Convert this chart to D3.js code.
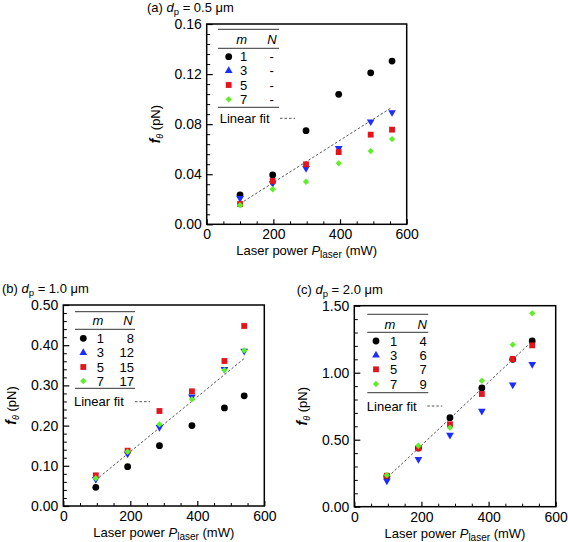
<!DOCTYPE html>
<html><head><meta charset="utf-8">
<script src="https://cdn.jsdelivr.net/npm/d3@7"></script>
<style>
body{margin:0;background:#fff;}
text{font-family:"Liberation Sans",Arial,sans-serif;}
</style></head>
<body><svg id="chart" width="568" height="542"></svg>
<script>
// ---------- data ----------
const panelLabels = ["(a)", "(b)", "(c)"];
const particleDiameters = ["0.5", "1.0", "2.0"];
const mValues = ["1", "3", "5", "7"];
const nValuesA = ["-", "-", "-", "-"];
const nValuesB = ["8", "12", "15", "17"];
const nValuesC = ["4", "6", "7", "9"];

const powerA = [100, 198, 298, 396, 492, 556];
const fA_m1 = [0.0234, 0.0394, 0.0748, 0.1038, 0.1210, 0.1304];
const fA_m3 = [0.0208, 0.0327, 0.0447, 0.0607, 0.0820, 0.0894];
const fA_m5 = [0.0162, 0.0346, 0.0479, 0.0577, 0.0716, 0.0756];
const fA_m7 = [0.0152, 0.0280, 0.0340, 0.0487, 0.0585, 0.0681];
const fitA_x = [100, 552];
const fitA_y = [0.0165, 0.0928];

const powerB = [97, 192, 287, 384, 481, 540];
const fB_m1 = [0.0465, 0.0978, 0.150, 0.200, 0.244, 0.274];
const fB_m3 = [0.0664, 0.130, 0.1957, 0.272, 0.340, 0.3856];
const fB_m5 = [0.0763, 0.1376, 0.2363, 0.2853, 0.3607, 0.4478];
const fB_m7 = [0.069, 0.135, 0.203, 0.2654, 0.338, 0.387];
const fitB_x = [97, 540];
const fitB_y = [0.0647, 0.367];

const powerC = [97, 191, 285, 380, 472, 530];
const fC_m1 = [0.228, 0.438, 0.664, 0.886, 1.100, 1.237];
const fC_m3 = [0.194, 0.354, 0.535, 0.714, 0.910, 1.063];
const fC_m5 = [0.231, 0.436, 0.615, 0.841, 1.102, 1.204];
const fC_m7 = [0.235, 0.455, 0.590, 0.940, 1.209, 1.443];
const fitC_x = [101, 525];
const fitC_y = [0.224, 1.224];

const xTicks = [0, 200, 400, 600];
const xMinorTicks = [50, 100, 150, 250, 300, 350, 450, 500, 550];
const yTicksA = [0, 0.04, 0.08, 0.12, 0.16];
const yTicksB = [0, 0.10, 0.20, 0.30, 0.40, 0.50];
const yTicksC = [0, 0.50, 1.00, 1.50];
const yMinorStepA = 0.008, yMinorStepB = 0.02, yMinorStepC = 0.10;

const seriesColors = ["#000000", "#1c2dff", "#e3141c", "#5cef2a"];

// ---------- layout ----------
const panels = [
  {left: 206.7, top: 24, w: 200, h: 200.3, yMax: 0.16, yTicks: yTicksA, minor: yMinorStepA,
   x: powerA, ys: [fA_m1, fA_m3, fA_m5, fA_m7], fx: fitA_x, fy: fitA_y, N: nValuesA,
   titleX: 147, leg: {top: 5.3, x0: 11.3, x1: 72.3, hdr: 15, hl: 24.3, rows: [32.7, 46.8, 61, 75.3], bl: 83.3, fit: 94.3, mk: 22, mnum: 33.3, mh: 35, nh: 65.3, nx: 65, nAnchor: "middle", fitX: 13, d0: 73.3, d1: 88.3}},
  {left: 63.3, top: 305, w: 201, h: 201, yMax: 0.5, yTicks: yTicksB, minor: yMinorStepB,
   x: powerB, ys: [fB_m1, fB_m3, fB_m5, fB_m7], fx: fitB_x, fy: fitB_y, N: nValuesB,
   titleX: 2, leg: {top: 6.7, x0: 11.7, x1: 71.7, hdr: 15.7, hl: 24.3, rows: [33.3, 47.7, 62, 76], bl: 83.3, fit: 96.7, mk: 20, mnum: 33.4, mh: 34.7, nh: 64.7, nx: 70.7, nAnchor: "end", fitX: 10.7, d0: 71.7, d1: 86.7}},
  {left: 354.3, top: 305.7, w: 201.4, h: 201, yMax: 1.5, yTicks: yTicksC, minor: yMinorStepC,
   x: powerC, ys: [fC_m1, fC_m3, fC_m5, fC_m7], fx: fitC_x, fy: fitC_y, N: nValuesC,
   titleX: 296.7, leg: {top: 8.6, x0: 13, x1: 74, hdr: 18.6, hl: 26.6, rows: [35.3, 49.6, 63.6, 78.3], bl: 87, fit: 100.3, mk: 21.7, mnum: 35.7, mh: 35.7, nh: 68, nx: 72.4, nAnchor: "end", fitX: 12.5, d0: 73, d1: 88}}
];

const svg = d3.select("#chart");
const FS = 13;
const TFS = 14;

function marker(g, i, cx, cy, legend) {
  const col = seriesColors[i];
  if (i === 0) {
    g.append("circle").attr("cx", cx).attr("cy", cy).attr("r", 3.4).attr("fill", col);
  } else if (i === 1) {
    g.append("path").attr("d", d3.symbol(d3.symbolTriangle, 26)())
      .attr("transform", `translate(${cx},${cy}) rotate(${legend ? 0 : 180})`).attr("fill", col);
  } else if (i === 2) {
    g.append("path").attr("d", d3.symbol(d3.symbolSquare, 34)())
      .attr("transform", `translate(${cx},${cy})`).attr("fill", col);
  } else {
    g.append("path").attr("d", d3.symbol(d3.symbolSquare, 20)())
      .attr("transform", `translate(${cx},${cy}) rotate(45)`).attr("fill", col);
  }
}

panels.forEach((p, pi) => {
  const g = svg.append("g").attr("transform", `translate(${p.left},${p.top})`);
  const x = d3.scaleLinear().domain([0, 600]).range([0, p.w]);
  const y = d3.scaleLinear().domain([0, p.yMax]).range([p.h, 0]);

  // minor ticks
  const yMinor = d3.range(0, p.yMax + 1e-9, p.minor).filter(v => !p.yTicks.some(t => Math.abs(t - v) < 1e-9));
  g.append("g").call(d3.axisLeft(y).tickValues(yMinor).tickSize(-3.5).tickFormat(""))
    .call(a => a.select(".domain").remove()).selectAll("line").attr("stroke-width", 1);
  g.append("g").attr("transform", `translate(0,${p.h})`)
    .call(d3.axisBottom(x).tickValues(xMinorTicks).tickSize(-3).tickFormat(""))
    .call(a => a.select(".domain").remove()).selectAll("line").attr("stroke-width", 1);

  // major axes
  const ya = g.append("g").call(d3.axisLeft(y).tickValues(p.yTicks).tickSize(-6).tickPadding(5).tickFormat(d3.format(".2f")));
  ya.select(".domain").remove();
  ya.selectAll("line").attr("stroke-width", 1.2);
  ya.selectAll("text").attr("font-size", TFS).attr("fill", "#000").attr("font-family", "Liberation Sans, Arial, sans-serif");
  const xa = g.append("g").attr("transform", `translate(0,${p.h})`)
    .call(d3.axisBottom(x).tickValues(xTicks).tickSize(-5).tickPadding(5).tickFormat(d3.format("d")));
  xa.select(".domain").remove();
  xa.selectAll("line").attr("stroke-width", 1.2);
  xa.selectAll("text").attr("font-size", TFS).attr("fill", "#000").attr("font-family", "Liberation Sans, Arial, sans-serif");

  // frame
  g.append("rect").attr("x", 0).attr("y", 0).attr("width", p.w).attr("height", p.h)
    .attr("fill", "none").attr("stroke", "#000").attr("stroke-width", 1.5);

  // fit line
  g.append("line").attr("x1", x(p.fx[0])).attr("y1", y(p.fy[0])).attr("x2", x(p.fx[1])).attr("y2", y(p.fy[1]))
    .attr("stroke", "#555").attr("stroke-width", 1).attr("stroke-dasharray", "2.5,2");

  // data
  p.ys.forEach((arr, si) => {
    arr.forEach((v, k) => marker(g, si, x(p.x[k]), y(v), false));
  });

  // legend
  const L = p.leg;
  const lg = g.append("g");
  [L.top, L.hl, L.bl].forEach(yy => lg.append("line").attr("x1", L.x0).attr("x2", L.x1).attr("y1", yy).attr("y2", yy)
    .attr("stroke", "#333").attr("stroke-width", 1));
  lg.append("text").attr("x", L.mh).attr("y", L.hdr).attr("dy", "0.35em").attr("text-anchor", "middle")
    .attr("font-size", FS).attr("font-style", "italic").text("m");
  lg.append("text").attr("x", L.nh).attr("y", L.hdr).attr("dy", "0.35em").attr("text-anchor", "middle")
    .attr("font-size", FS).attr("font-style", "italic").text("N");
  mValues.forEach((m, i) => {
    marker(lg, i, L.mk, L.rows[i], true);
    lg.append("text").attr("x", L.mnum).attr("y", L.rows[i]).attr("dy", "0.35em").attr("font-size", FS).text(m);
    lg.append("text").attr("x", L.nx).attr("y", L.rows[i]).attr("dy", "0.35em").attr("text-anchor", p.leg.nAnchor)
      .attr("font-size", FS).text(p.N[i]);
  });
  lg.append("text").attr("x", L.fitX).attr("y", L.fit).attr("dy", "0.35em").attr("font-size", FS).text("Linear fit");
  lg.append("line").attr("x1", L.d0).attr("x2", L.d1).attr("y1", L.fit).attr("y2", L.fit)
    .attr("stroke", "#555").attr("stroke-width", 1).attr("stroke-dasharray", "2.5,2");

  // axis labels
  const xl = svg.append("text").attr("x", p.left + p.w / 2).attr("y", p.top + p.h + 31)
    .attr("text-anchor", "middle").attr("font-size", FS);
  xl.append("tspan").text("Laser power ");
  xl.append("tspan").attr("font-style", "italic").text("P");
  xl.append("tspan").attr("font-size", 10).attr("dy", 3).text("laser");
  xl.append("tspan").attr("dy", -3).text(" (mW)");

  const yl = svg.append("text").attr("transform", `translate(${p.left - 47},${p.top + p.h / 2}) rotate(-90)`)
    .attr("text-anchor", "middle").attr("font-size", FS);
  yl.append("tspan").attr("font-style", "italic").attr("font-weight", "bold").attr("font-size", 14).text("f");
  yl.append("tspan").attr("font-style", "italic").attr("font-size", 9).attr("dy", 3).text("θ");
  yl.append("tspan").attr("dy", -3).text(" (pN)");

  // title
  const t = svg.append("text").attr("x", p.titleX).attr("y", p.top - 12).attr("font-size", FS);
  t.append("tspan").text(panelLabels[pi] + " ");
  t.append("tspan").attr("font-style", "italic").text("d");
  t.append("tspan").attr("font-size", 9.5).attr("dy", 3).text("p");
  t.append("tspan").attr("dy", -3).text(" = " + particleDiameters[pi] + " μm");
});
</script></body></html>
